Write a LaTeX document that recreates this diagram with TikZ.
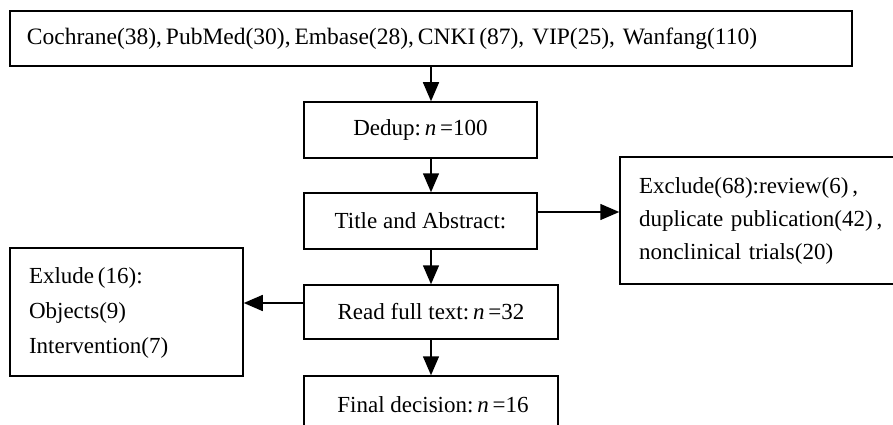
\documentclass[tikz,border=0pt]{standalone}
\usepackage{fontspec}
\setmainfont{Liberation Serif}
\usetikzlibrary{arrows.meta}
\begin{document}
\begin{tikzpicture}[x=1pt,y=-1pt,
  box/.style={draw, line width=1.5pt, inner sep=0pt, font=\fontsize{23}{28}\selectfont},
  listbox/.style={box, align=left},
  arr/.style={line width=1.5pt, -{Triangle[length=19pt,width=16pt]}}]
\useasboundingbox (0,0) rectangle (893,425);
\node[box, font=\fontsize{23.5}{28}\selectfont, minimum width=842pt, minimum height=55pt, text width=808pt, align=left] (src) at (431,38.5)
  {Cochrane(38),\,PubMed(30),\,Embase(28),\,CNKI\,(87),\,\,VIP(25),\,\,Wanfang(110)};
\node[box, minimum width=233pt, minimum height=56pt] (dedup) at (420.5,130) {Dedup:\,\textit{n}\,=100};
\node[box, minimum width=233pt, minimum height=56pt] (title) at (420.5,221) {Title and Abstract:};
\node[box, minimum width=254pt, minimum height=54pt] (read) at (431,312) {Read full text:\,\textit{n}\,=32};
\node[box, minimum width=254pt, minimum height=56pt] (final) at (431,404) {};
\node[font=\fontsize{23}{28}\selectfont, inner sep=0pt] (finaltxt) at (433,405) {Final decision:\,\textit{n}\,=16};
\node[listbox, font=\fontsize{23}{33}\selectfont, minimum width=285pt, minimum height=127pt, text width=247pt] (excl) at (762.5,220.5)
  {Exclude(68):review(6)\,,\\duplicate publication(42)\,,\\nonclinical trials(20)};
\node[listbox, font=\fontsize{23}{35}\selectfont, minimum width=233pt, minimum height=128pt, text width=195pt] (exl) at (126.5,312)
  {\vphantom{Ej}\\[-32pt]Exlude\,(16):\\Objects(9)\\Intervention(7)};
\draw[arr] (src.south) -- (src.south |- dedup.north);
\draw[arr] (dedup.south -| src.south) -- (title.north -| src.south);
\draw[arr] (title.south -| src.south) -- (read.north);
\draw[arr] (read.south) -- (final.north);
\draw[arr] ([yshift=9pt]title.east) -- ([yshift=9pt]title.east -| excl.west);
\draw[arr] ([yshift=9pt]read.west) -- ([yshift=9pt]read.west -| exl.east);
\end{tikzpicture}
\end{document}
